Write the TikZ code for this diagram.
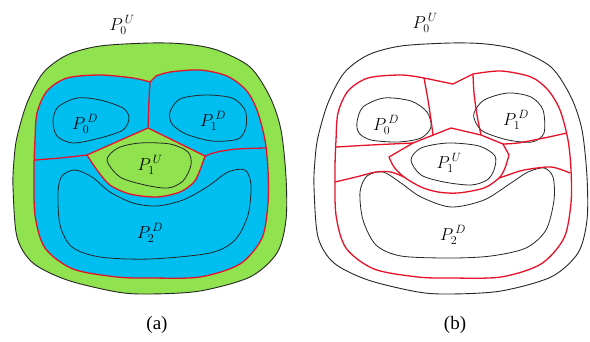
\documentclass[tikz,border=0pt]{standalone}
\usepackage{fontspec}
\setmainfont{Liberation Serif}
\definecolor{gfill}{RGB}{144,226,78}
\definecolor{bfill}{RGB}{0,190,240}
\definecolor{rline}{RGB}{232,18,40}
\begin{document}
\begin{tikzpicture}[x=1pt,y=-1pt,
  outerline/.style={draw=black!85, line width=0.9pt},
  redline/.style={draw=rline, line width=1.3pt, line join=round},
  blob/.style={draw=black!85, line width=0.8pt},
  lbl/.style={font=\fontsize{17}{20}\selectfont, inner sep=0pt},
  captext/.style={font=\fontsize{19}{22}\selectfont, inner sep=0pt}]
\useasboundingbox (0,0) rectangle (590,341);
\fill[white] (0,0) rectangle (590,341);

% ---------------- panel (a) ----------------
\begin{scope}
\path[fill=gfill, outerline] plot[smooth cycle] coordinates {(150,43) (185,44) (217,50) (250,67) (270,97) (281,130) (286,177) (286,220) (277,253) (250,277) (200,291) (150,294) (117,292) (67,280) (33,263) (17,237) (13,187) (14,160) (17,137) (27,103) (43,73) (67,55) (100,46)};
\path[fill=bfill] plot[smooth] coordinates {(150,82) (133,78) (100,75) (67,78) (47,91) (37,113) (35,140) (34,170) (35,215) (45,248) (73,269) (117,277) (150,278) (200,277) (240,264) (262,238) (268,203) (268,170) (265,140) (257,110) (246,90) (227,76) (200,70) (170,72) (156,76)} -- cycle;
\path[fill=gfill] (148,128) -- plot[smooth] coordinates {(87,155) (97,170) (110,185) (130,194) (157,197) (180,192) (194,182) (200,170) (205,156)} -- cycle;
% red boundaries
\draw[redline] plot[smooth] coordinates {(150,82) (133,78) (100,75) (67,78) (47,91) (37,113) (35,140) (34,170) (35,215) (45,248) (73,269) (117,277) (150,278) (200,277) (240,264) (262,238) (268,203) (268,170) (265,140) (257,110) (246,90) (227,76) (200,70) (170,72) (156,76)} -- cycle;
\draw[redline] plot[smooth] coordinates {(150,82) (149,100) (148,128)};
\draw[redline] plot[smooth] coordinates {(35,160) (60,158) (87,155)};
\draw[redline] plot[smooth] coordinates {(205,156) (217,152) (237,149) (266,148)};
\draw[redline] (148,128) -- plot[smooth] coordinates {(87,155) (97,170) (110,185) (130,194) (157,197) (180,192) (194,182) (200,170) (205,156)} -- cycle;
% blobs
\draw[blob] plot[smooth cycle] coordinates {(53,121) (58,107) (77,98) (100,100) (123,108) (129,118) (123,130) (100,138) (73,143) (57,136)};
\draw[blob] plot[smooth cycle] coordinates {(170,112) (180,99) (205,95) (232,98) (245,110) (246,127) (238,139) (212,141) (186,134) (172,124)};
\draw[blob] plot[smooth cycle] coordinates {(107,160) (118,148) (140,143) (170,144) (188,152) (191,165) (183,181) (168,188) (145,185) (120,177)};
\draw[blob] plot[smooth cycle] coordinates {(58,192) (62,176) (75,170) (92,177) (110,192) (133,203) (157,206) (183,200) (207,187) (228,172) (245,170) (251,185) (248,215) (235,240) (210,253) (150,259) (100,257) (72,247) (60,225)};
% labels
\node[lbl] (a0u) at (122,25) {$P_0^{\,U}$};
\node[lbl] (a0d) at (85,124) {$P_0^{\,D}$};
\node[lbl] (a1d) at (213,121) {$P_1^{\,D}$};
\node[lbl] (a1u) at (150,165) {$P_1^{\,U}$};
\node[lbl] (a2d) at (150,233) {$P_2^{\,D}$};
\node[captext] (capa) at (157,325) {(a)};
\end{scope}

% ---------------- panel (b) ----------------
\begin{scope}[xshift=301pt]
\path[outerline] plot[smooth cycle] coordinates {(150,43) (185,44) (217,50) (250,67) (270,97) (281,130) (286,177) (286,220) (277,253) (250,277) (200,291) (150,294) (117,292) (67,280) (33,263) (17,237) (13,187) (14,160) (17,137) (27,103) (43,73) (67,55) (100,46)};
% blobs
\draw[blob] plot[smooth cycle] coordinates {(56,122) (62,107) (83,98) (110,101) (126,112) (130,127) (120,138) (97,142) (70,140) (58,133)};
\draw[blob] plot[smooth cycle] coordinates {(173,113) (183,100) (207,93) (230,97) (242,110) (243,133) (231,142) (207,140) (183,132) (175,123)};
\draw[blob] plot[smooth cycle] coordinates {(110,160) (120,148) (147,143) (178,146) (194,156) (193,170) (186,180) (170,185) (143,182) (120,175)};
\draw[blob] plot[smooth cycle] coordinates {(59,192) (66,176) (82,172) (100,183) (120,197) (150,207) (183,200) (210,183) (227,172) (243,168) (252,177) (253,200) (245,230) (225,248) (190,256) (150,258) (100,256) (75,245) (62,220)};
% red network
\draw[redline] plot[smooth] coordinates {(123,78) (100,75) (67,78) (47,91) (37,113) (35,140) (34,170) (35,215) (45,248) (73,269) (117,277) (150,278) (200,277) (240,264) (263,238) (270,203) (270,170) (267,140) (259,110) (247,90) (230,77) (200,71) (172,74)} -- (152,84) -- cycle;
\draw[redline] plot[smooth] coordinates {(123,78) (127,100) (130,120) (132,135)};
\draw[redline] plot[smooth] coordinates {(172,74) (173,93) (176,115) (180,135)};
\draw[redline] (150,128) -- (180,135) -- (202,144) -- plot[smooth] coordinates {(208,155) (204,168) (198,178) (183,188) (157,193) (137,192) (120,187) (103,177) (93,167) (88,157)} -- (112,143) -- cycle;
\draw[redline] plot[smooth] coordinates {(35,147) (70,145) (112,143)};
\draw[redline] plot[smooth] coordinates {(34,182) (55,177) (75,172) (90,172) (103,177)};
\draw[redline] plot[smooth] coordinates {(266,133) (243,138) (217,143) (202,144)};
\draw[redline] plot[smooth] coordinates {(269,173) (250,167) (223,170) (207,175) (198,178)};
% labels
\node[lbl] (b0u) at (124,23) {$P_0^{\,U}$};
\node[lbl] (b0d) at (85,125) {$P_0^{\,D}$};
\node[lbl] (b1d) at (215,120) {$P_1^{\,D}$};
\node[lbl] (b1u) at (148,163) {$P_1^{\,U}$};
\node[lbl] (b2d) at (152,235) {$P_2^{\,D}$};
\node[captext] (capb) at (154,325) {(b)};
\end{scope}
\end{tikzpicture}
\end{document}
